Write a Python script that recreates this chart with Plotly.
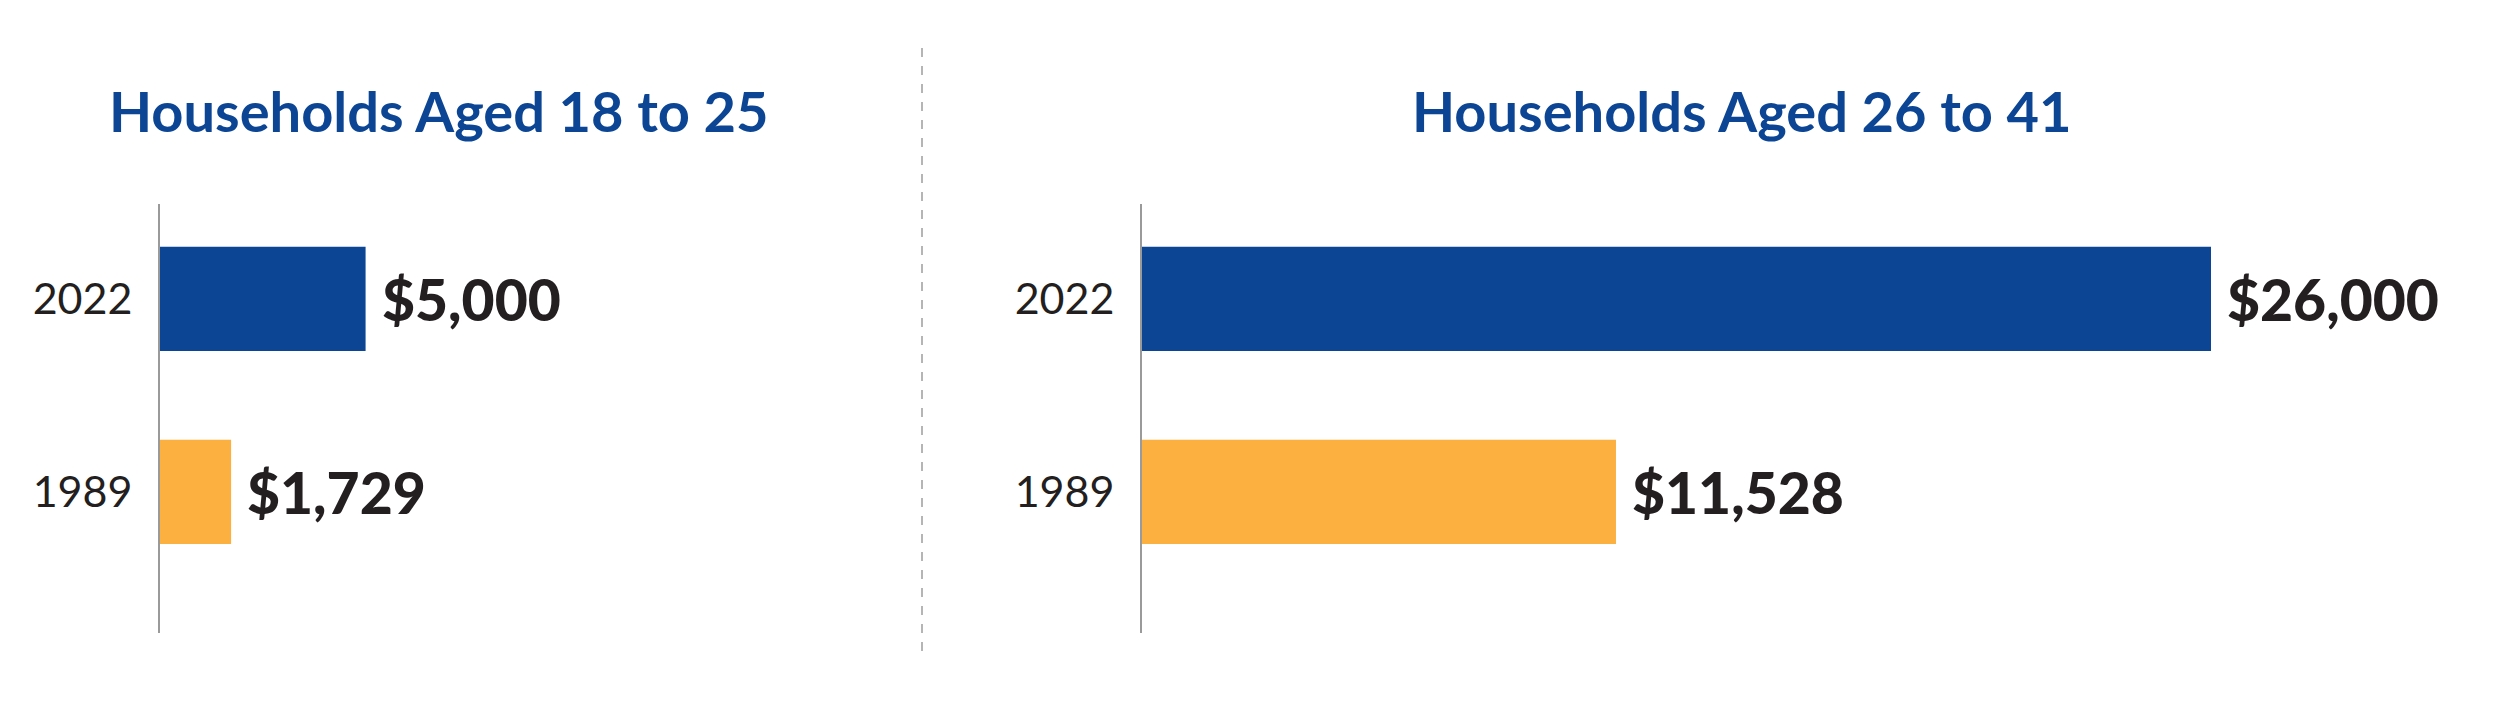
import plotly.graph_objects as go

# ---- data ----
years = ["1989", "2022"]
year_pos = [0, 1]
panel_titles = ["Households Aged 18 to 25", "Households Aged 26 to 41"]
values_18_25 = [1729, 5000]
values_26_41 = [11528, 26000]
bar_colors = ["#fbb040", "#0c4594"]

W, H = 2501, 701
OFF = 8  # browser body margin compensation
BLUE_TITLE = "#0c4594"
DARK = "#231f20"

def fmt(v):
    return "${:,}".format(v)

fig = go.Figure()

panels = [(values_18_25, "x", "y"), (values_26_41, "x2", "y2")]
for vals, xa, ya in panels:
    fig.add_trace(go.Bar(
        x=vals, y=year_pos, orientation="h",
        marker=dict(color=bar_colors, line=dict(width=0)),
        width=0.54, xaxis=xa, yaxis=ya, hoverinfo="skip", showlegend=False,
    ))
    for v, yp in zip(vals, year_pos):
        fig.add_annotation(
            x=v, y=yp, xref=xa, yref=ya, text=fmt(v), showarrow=False,
            xanchor="left", yanchor="middle", xshift=14,
            font=dict(family="Lato", size=57, color=DARK, weight=900),
        )

def px_x(p):
    return (p - OFF) / W

def px_y(p):
    return (H - (p - OFF)) / H

PX_PER_UNIT = 1069 / 26000
left_x0, left_x1 = 160, 900
right_x0, right_x1 = 1142, 2490
y_top, y_bot = 204, 633
ydom = [px_y(y_bot), px_y(y_top)]
yrange = [-0.731, 1.492]

axis_common_y = dict(
    range=yrange, domain=ydom, showline=True, linecolor="#9a9a9a",
    linewidth=2, ticks="", showgrid=False, zeroline=False,
    tickmode="array", tickvals=year_pos, ticktext=years,
    tickfont=dict(family="Lato", size=43, color=DARK),
    ticklabelstandoff=17, fixedrange=True,
)
fig.update_layout(
    width=W, height=H,
    margin=dict(l=0, r=0, t=0, b=0),
    paper_bgcolor="white", plot_bgcolor="white",
    xaxis=dict(domain=[px_x(left_x0), px_x(left_x1)],
               range=[0, (left_x1 - left_x0) / PX_PER_UNIT],
               visible=False, fixedrange=True),
    xaxis2=dict(domain=[px_x(right_x0), px_x(right_x1)],
                range=[0, (right_x1 - right_x0) / PX_PER_UNIT],
                visible=False, fixedrange=True),
    yaxis=dict(anchor="x", **axis_common_y),
    yaxis2=dict(anchor="x2", **axis_common_y),
)

# panel titles
for title, cx in zip(panel_titles, [439, 1742]):
    fig.add_annotation(
        x=px_x(cx), y=px_y(110), xref="paper", yref="paper",
        text=title, showarrow=False, xanchor="center", yanchor="middle",
        font=dict(family="Lato", size=56, color=BLUE_TITLE, weight="bold"),
    )

# dashed divider
fig.add_shape(type="line", xref="paper", yref="paper",
              x0=px_x(922), x1=px_x(922), y0=px_y(651), y1=px_y(48),
              line=dict(color="#b5b5b5", width=2, dash="dash"))

fig.write_html("out.html")
